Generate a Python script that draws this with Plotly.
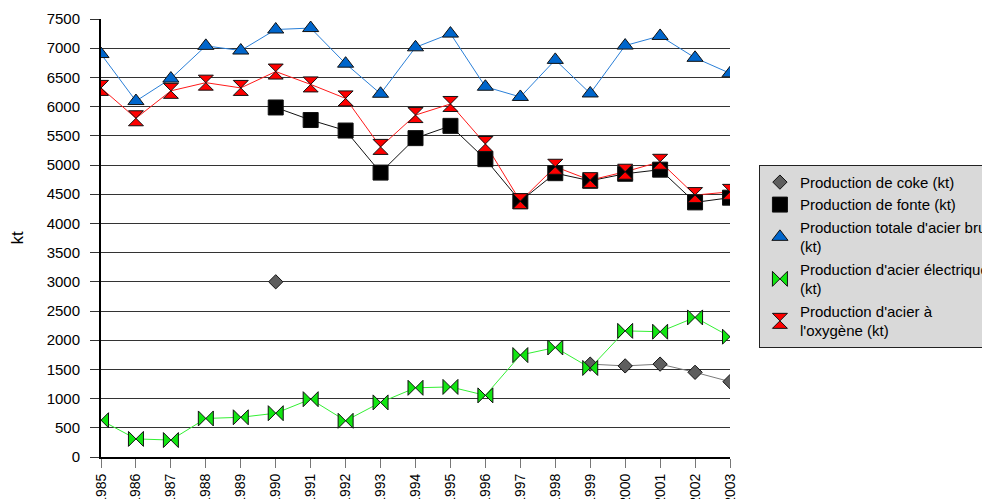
import plotly.graph_objects as go

years = list(range(1985, 2004))
coke = [None, None, None, None, None, 3000, None, None, None, None, None, None, None, None,
        1590, 1560, 1590, 1450, 1290]
fonte = [None, None, None, None, None, 5985, 5770, 5590, 4870, 5460, 5670, 5100, 4380, 4860,
         4730, 4850, 4920, 4360, 4440]
acier_total = [6900, 6095, 6480, 7040, 6960, 7320, 7345, 6735, 6220, 7015, 7250, 6340, 6165,
               6800, 6225, 7045, 7210, 6835, 6570]
acier_elec = [630, 310, 290, 660, 680, 750, 990, 620, 935, 1185, 1200, 1055, 1745, 1875,
              1525, 2160, 2145, 2390, 2060]
acier_oxy = [6320, 5800, 6270, 6410, 6320, 6600, 6380, 6140, 5310, 5855, 6045, 5360, 4380,
             4970, 4740, 4885, 5055, 4485, 4540]

names = ["Production de coke (kt)", "Production de fonte (kt)",
         "Production totale d'acier brut<br>(kt)", "Production d'acier électrique<br>(kt)",
         "Production d'acier à<br>l'oxygène (kt)"]
series = [coke, fonte, acier_total, acier_elec, acier_oxy]
line_colors = ["#7a7a7a", "#111111", "#2a7fd8", "#33f033", "#ff1a1a"]
fill_colors = ["#5e5e5e", "#000000", "#0066cc", "#11e611", "#ff0000"]
symbols = ["diamond", "square", "triangle-up", "bowtie", "hourglass"]
sizes = [11, 15, 14, 15, 15]

FONT = "Liberation Sans, Arial, sans-serif"
fig = go.Figure()

for vals, lc in zip(series, line_colors):
    fig.add_trace(go.Scatter(x=years, y=vals, mode="lines", showlegend=False,
                             line=dict(color=lc, width=1), connectgaps=False,
                             hoverinfo="skip"))

for name, vals, fc, sym, sz in zip(names, series, fill_colors, symbols, sizes):
    fig.add_trace(go.Scatter(x=years, y=vals, mode="markers", name=name,
                             marker=dict(symbol=sym, size=sz, color=fc,
                                         line=dict(color="#111111", width=1))))

fig.update_layout(
    width=990, height=499,
    paper_bgcolor="white", plot_bgcolor="white",
    margin=dict(l=93, r=268, t=11, b=50, autoexpand=False),
    font=dict(family=FONT, size=15, color="black"),
    legend=dict(x=1.046, y=0.667, xanchor="left", yanchor="top",
                bgcolor="#d9d9d9", bordercolor="#222222", borderwidth=1,
                font=dict(family=FONT, size=15, color="black"),
                tracegroupgap=0, itemsizing="trace"),
    showlegend=True,
)

fig.update_xaxes(range=[1985, 2003], tickvals=years, ticktext=[str(y) for y in years],
                 tickangle=-90, tickfont=dict(size=14), ticks="outside", ticklen=9,
                 tickcolor="#777777", showgrid=False, zeroline=False,
                 showline=True, linecolor="black", linewidth=2)
fig.update_yaxes(range=[0, 7500], dtick=500, tickfont=dict(size=15), ticks="outside",
                 ticklen=9, tickcolor="#333333", ticklabelstandoff=7,
                 showgrid=True, gridcolor="#333333",
                 gridwidth=1, zeroline=False, showline=True, linecolor="black",
                 linewidth=2, title=dict(text="kt", standoff=28, font=dict(size=17)))

fig.write_html("out.html")
